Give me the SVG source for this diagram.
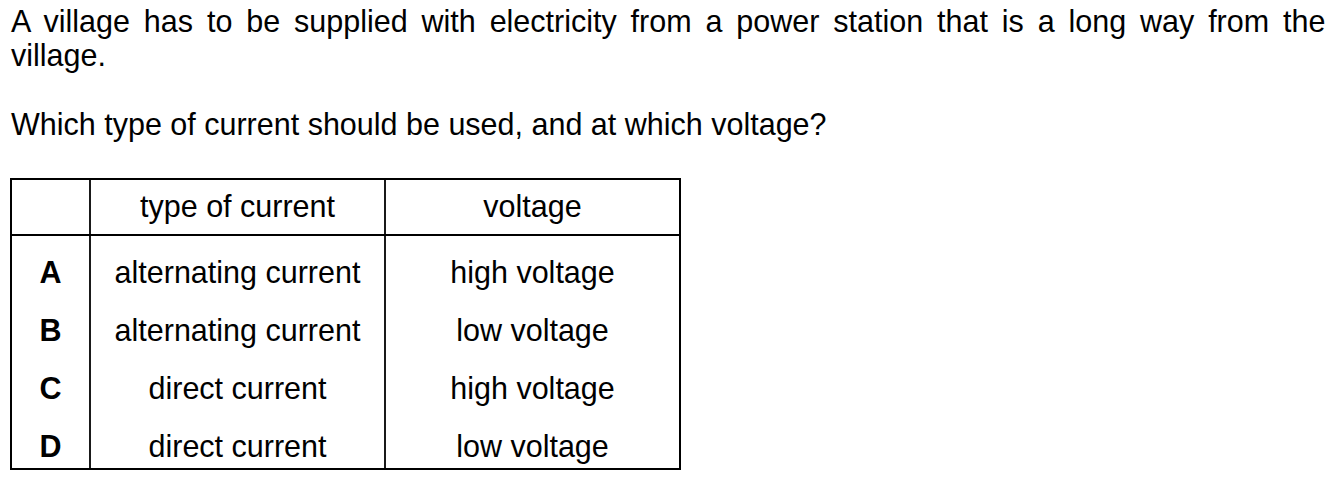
<svg xmlns="http://www.w3.org/2000/svg" width="1340" height="485" viewBox="0 0 1340 485">
<style>
text{font-family:"Liberation Sans",Arial,sans-serif;font-size:30.5px;fill:#000}
.c{text-anchor:middle}
.b{font-weight:bold}
.o{fill:none;stroke:#000;stroke-width:2}
.i{stroke:#000;stroke-width:1.8}
</style>
<rect width="1340" height="485" fill="#fff"/>
<g id="question">
<text x="11" y="32" word-spacing="5.4">A village has to be supplied with electricity from a power station that is a long way from the</text>
<text x="11" y="66">village.</text>
<text x="11" y="135">Which type of current should be used, and at which voltage?</text>
</g>
<g id="table">
<rect class="o" x="11" y="179" width="669" height="290"/>
<line class="i" x1="11" y1="235" x2="680" y2="235"/>
<line class="i" x1="90" y1="179" x2="90" y2="469"/>
<line class="i" x1="385" y1="179" x2="385" y2="469"/>
<text class="c" x="237.5" y="217">type of current</text>
<text class="c" x="532.5" y="217">voltage</text>
<g id="rowA"><text class="c b" x="50.5" y="283">A</text><text class="c" x="237.5" y="283">alternating current</text><text class="c" x="532.5" y="283">high voltage</text></g>
<g id="rowB"><text class="c b" x="50.5" y="341">B</text><text class="c" x="237.5" y="341">alternating current</text><text class="c" x="532.5" y="341">low voltage</text></g>
<g id="rowC"><text class="c b" x="50.5" y="399">C</text><text class="c" x="237.5" y="399">direct current</text><text class="c" x="532.5" y="399">high voltage</text></g>
<g id="rowD"><text class="c b" x="50.5" y="457">D</text><text class="c" x="237.5" y="457">direct current</text><text class="c" x="532.5" y="457">low voltage</text></g>
</g>
</svg>
